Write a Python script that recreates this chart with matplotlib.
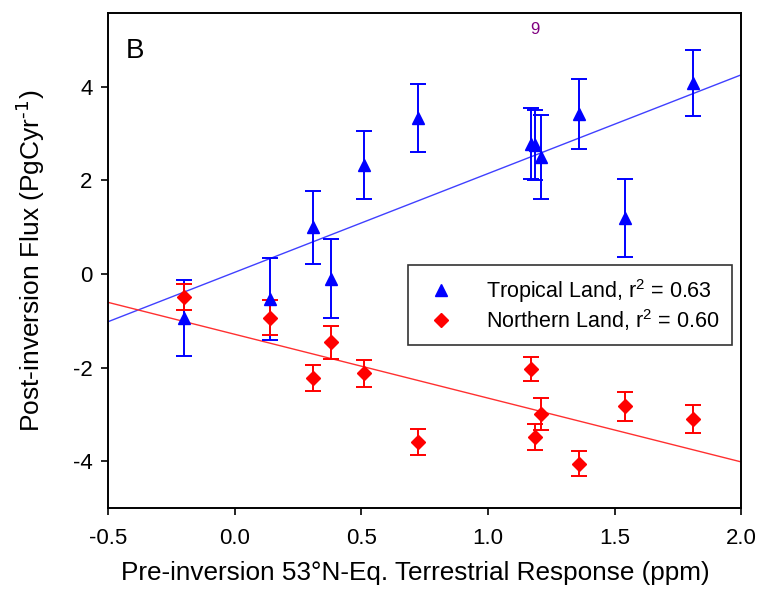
import numpy as np
import matplotlib.pyplot as plt
from matplotlib.lines import Line2D

plt.rcParams['font.family'] = ['Liberation Sans', 'DejaVu Sans']
plt.rcParams['axes.unicode_minus'] = False

# tropical land (blue triangles)
trop_x = [-0.20, 0.14, 0.31, 0.38, 0.51, 0.725, 1.17, 1.185, 1.21, 1.36, 1.54, 1.81]
trop_y = [-0.94, -0.53, 1.00, -0.10, 2.33, 3.33, 2.78, 2.75, 2.50, 3.42, 1.20, 4.08]
trop_err = [0.82, 0.88, 0.78, 0.84, 0.73, 0.72, 0.76, 0.75, 0.89, 0.74, 0.84, 0.70]

# northern land (red diamonds)
nrth_x = [-0.20, 0.14, 0.31, 0.38, 0.51, 0.725, 1.17, 1.185, 1.21, 1.36, 1.54, 1.81]
nrth_y = [-0.49, -0.93, -2.22, -1.46, -2.12, -3.58, -2.03, -3.48, -2.99, -4.05, -2.82, -3.10]
nrth_err = [0.28, 0.37, 0.28, 0.35, 0.29, 0.28, 0.26, 0.28, 0.34, 0.27, 0.31, 0.30]

xticks = [-0.5, 0.0, 0.5, 1.0, 1.5, 2.0]
yticks = [-4, -2, 0, 2, 4]

fig = plt.figure(figsize=(7.77, 6.02), dpi=100)
ax = fig.add_axes([0.139, 0.156, 0.815, 0.822])

ax.errorbar(trop_x, trop_y, yerr=trop_err, fmt='^', color='#0000ff', ms=8,
            capsize=6, elinewidth=1.4, capthick=1.4, zorder=3)
ax.errorbar(nrth_x, nrth_y, yerr=nrth_err, fmt='D', color='#ff0000', ms=7,
            capsize=6, elinewidth=1.4, capthick=1.4, zorder=3)

# regression lines
xx = np.array([-0.5, 2.0])
bt = np.polyfit(trop_x, trop_y, 1)
bn = np.polyfit(nrth_x, nrth_y, 1)
ax.plot(xx, np.polyval(bt, xx), color='#4040ff', lw=1, zorder=2)
ax.plot(xx, np.polyval(bn, xx), color='#ff3030', lw=1, zorder=2)

ax.set_xlim(-0.5, 2.0)
ax.set_ylim(-5, 5.57)
ax.set_xticks(xticks)
ax.set_xticklabels(['%.1f' % t for t in xticks])
ax.set_yticks(yticks)
ax.tick_params(direction='out', length=5, width=1.2, labelsize=16)
ax.tick_params(axis='x', pad=9)
ax.tick_params(axis='y', pad=6)
for s in ax.spines.values():
    s.set_linewidth(1.4)

ax.set_xlabel('Pre-inversion 53°N-Eq. Terrestrial Response (ppm)', fontsize=18.8)
ax.xaxis.set_label_coords(0.4846, -0.107)
ax.set_ylabel('Post-inversion Flux (PgCyr$^{\\text{-1}}$)', fontsize=19)
ax.yaxis.set_label_coords(-0.097, 0.50)

ax.text(0.028, 0.91, 'B', transform=ax.transAxes, fontsize=20)
ax.text(1.165, 5.12, '9', color='#800080', fontsize=12)

handles = [Line2D([], [], marker='^', color='#0000ff', ls='none', ms=8),
           Line2D([], [], marker='D', color='#ff0000', ls='none', ms=7)]
labels = ['Tropical Land, r$^{\\mathregular{2}}$ = 0.63',
          'Northern Land, r$^{\\mathregular{2}}$ = 0.60']
leg = ax.legend(handles, labels, loc='upper left', bbox_to_anchor=(0.4736, 0.491),
                fontsize=15.5, frameon=True, fancybox=False, edgecolor='black',
                borderpad=0.55, handletextpad=1.1, labelspacing=0.1, borderaxespad=0)
leg.get_frame().set_linewidth(1.2)

fig.savefig('out.png', dpi=100)
